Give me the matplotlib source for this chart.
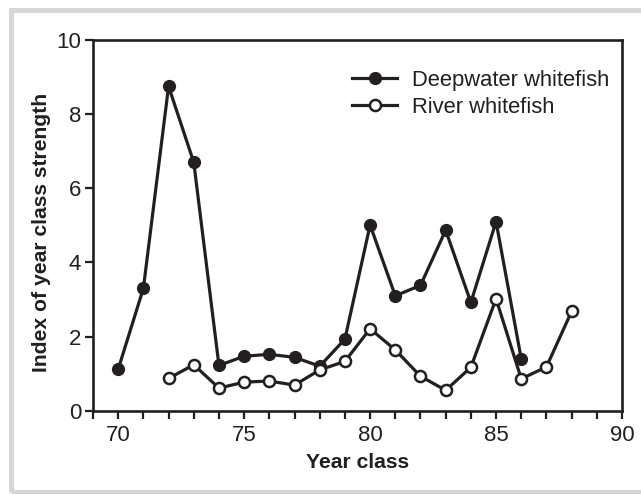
import matplotlib
matplotlib.use("Agg")
import matplotlib.pyplot as plt
from matplotlib.patches import Rectangle

plt.rcParams['font.family'] = ['Liberation Sans', 'DejaVu Sans']

deep_years = [70, 71, 72, 73, 74, 75, 76, 77, 78, 79, 80, 81, 82, 83, 84, 85, 86]
deep_vals = [1.12, 3.30, 8.75, 6.70, 1.22, 1.47, 1.52, 1.44, 1.20, 1.93, 5.01, 3.10, 3.38, 4.87, 2.92, 5.10, 1.40]
river_years = [72, 73, 74, 75, 76, 77, 78, 79, 80, 81, 82, 83, 84, 85, 86, 87, 88]
river_vals = [0.87, 1.24, 0.61, 0.77, 0.80, 0.69, 1.10, 1.33, 2.21, 1.64, 0.93, 0.55, 1.17, 3.02, 0.86, 1.18, 2.68]
labels = ["Deepwater whitefish", "River whitefish"]
xticks = [70, 75, 80, 85, 90]
yticks = [0, 2, 4, 6, 8, 10]

ink = "#231f20"
W, H = 641, 494
fig = plt.figure(figsize=(W / 100, H / 100), dpi=100)
fig.patches.append(Rectangle((10.5 / W, 1 - 491.5 / H), (650 - 10.5) / W, (491.5 - 10.5) / H,
                             transform=fig.transFigure, fill=False, edgecolor="#d6d6d6",
                             linewidth=3.6, zorder=0))

ax = fig.add_axes([93 / W, 1 - 410.7 / H, (622 - 93) / W, (410.7 - 40) / H])
ax.plot(deep_years, deep_vals, color=ink, lw=2.3, marker='o', ms=8.5,
        mfc=ink, mec=ink, label=labels[0], clip_on=False)
ax.plot(river_years, river_vals, color=ink, lw=2.3, marker='o', ms=8,
        mfc='white', mec=ink, mew=1.8, label=labels[1], clip_on=False)

ax.set_xlim(69, 90)
ax.set_ylim(0, 10)
ax.set_xticks(xticks)
ax.set_xticks(range(69, 91), minor=True)
ax.set_yticks(yticks)
for s in ax.spines.values():
    s.set_linewidth(1.9)
    s.set_color(ink)
ax.tick_params(which='both', direction='out', length=5.5, width=1.6, color=ink,
               labelsize=16, labelcolor=ink, pad=3)
ax.tick_params(axis='x', pad=5)

ax.set_xlabel("Year class", fontsize=15.2, fontweight='bold', color=ink, labelpad=5)
ax.set_ylabel("Index of year class strength", fontsize=15.2, fontweight='bold', color=ink, labelpad=4)
ax.yaxis.label.set_y(0.482)

leg = ax.legend(loc='upper left', bbox_to_anchor=(0.49, 0.9195), frameon=False,
                fontsize=15.8, handlelength=2.05, handletextpad=0.67, labelspacing=0.26,
                borderaxespad=0, borderpad=0)
for t in leg.get_texts():
    t.set_color(ink)

fig.savefig("out.png", dpi=100, facecolor='white')
